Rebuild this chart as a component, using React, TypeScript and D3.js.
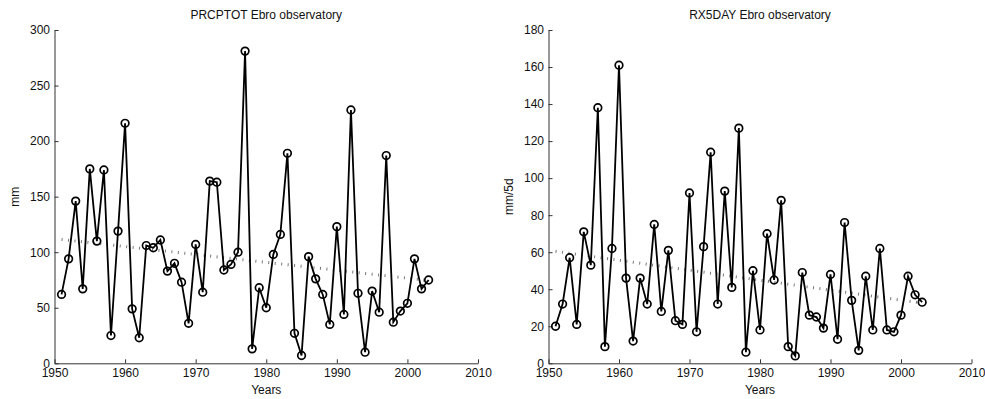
import * as d3 from "d3";
import { useEffect, useRef } from "react";

// years shared by both panels
const years = d3.range(1951, 2004);

const prcptot = [
  62, 94, 146, 67, 175, 110, 174, 25, 119, 216,
  49, 23, 106, 104, 111, 83, 90, 73, 36, 107,
  64, 164, 163, 84, 89, 100, 281, 13, 68, 50,
  98, 116, 189, 27, 7, 96, 76, 62, 35, 123,
  44, 228, 63, 10, 65, 46, 187, 37, 47, 54,
  94, 67, 75,
];

const rx5day = [
  20, 32, 57, 21, 71, 53, 138, 9, 62, 161,
  46, 12, 46, 32, 75, 28, 61, 23, 21, 92,
  17, 63, 114, 32, 93, 41, 127, 6, 50, 18,
  70, 45, 88, 9, 4, 49, 26, 25, 19, 48,
  13, 76, 34, 7, 47, 18, 62, 18, 17, 26,
  47, 37, 33,
];

// dotted trend line, start / end values (1951, 2003)
const prcptotTrend = [111.5, 74.5];
const rx5dayTrend = [60.5, 32.5];

const xTicks = [1950, 1960, 1970, 1980, 1990, 2000, 2010];
const prcptotTicks = [0, 50, 100, 150, 200, 250, 300];
const rx5dayTicks = [0, 20, 40, 60, 80, 100, 120, 140, 160, 180];

type panel = {
  title: string;
  ylabel: string;
  values: number[];
  trend: number[];
  yTicks: number[];
  left: number;
  right: number;
};

const panels: panel[] = [
  { title: "PRCPTOT Ebro observatory", ylabel: "mm", values: prcptot, trend: prcptotTrend, yTicks: prcptotTicks, left: 54.5, right: 478 },
  { title: "RX5DAY Ebro observatory", ylabel: "mm/5d", values: rx5day, trend: rx5dayTrend, yTicks: rx5dayTicks, left: 548.5, right: 971.5 },
];

export default function App() {
  const svgRef = useRef<SVGSVGElement | null>(null);
  useEffect(() => {
    if (!svgRef.current) return;
    draw(svgRef.current);
  }, []);
  return (
    <svg
      ref={svgRef}
      width={985}
      height={399}
      style={{ position: "absolute", left: 0, top: 0, background: "#fff" }}
    />
  );
}

function draw(svgElement: SVGSVGElement) {
  const svg = d3.select(svgElement);
  svg.selectAll("*").remove();

  const top = 30;
  const bottom = 363.3;
  const font = "'Liberation Sans', Arial, sans-serif";
  const axisColor = "#333";

  panels.forEach(p => {
    const x = d3.scaleLinear().domain([1950, 2010]).range([p.left, p.right]);
    const y = d3
      .scaleLinear()
      .domain([0, p.yTicks[p.yTicks.length - 1]])
      .range([bottom, top]);

    const g = svg.append("g");

    // --- title ---
    g.append("text")
      .attr("x", (p.left + p.right) / 2)
      .attr("y", 19)
      .attr("text-anchor", "middle")
      .style("font-family", font)
      .style("font-size", "12px")
      .style("fill", "#111")
      .text(p.title);

    // --- x axis, ticks inward ---
    const xAxis = g
      .append("g")
      .attr("transform", `translate(0, ${bottom})`)
      .call(
        d3.axisBottom(x)
          .tickValues(xTicks)
          .tickFormat(d3.format("d"))
          .tickSizeInner(-4)
          .tickSizeOuter(0)
          .tickPadding(5)
      );
    xAxis.select(".domain").attr("stroke", axisColor);
    xAxis.selectAll("line").attr("stroke", axisColor);
    xAxis.selectAll("text")
      .style("font-family", font)
      .style("font-size", "12px")
      .style("fill", "#111");

    // --- y axis ---
    const yAxis = g
      .append("g")
      .attr("transform", `translate(${p.left}, 0)`)
      .call(
        d3.axisLeft(y)
          .tickValues(p.yTicks)
          .tickSizeInner(-4)
          .tickSizeOuter(0)
          .tickPadding(4.5)
      );
    yAxis.select(".domain").attr("stroke", axisColor);
    yAxis.selectAll("line").attr("stroke", axisColor);
    yAxis.selectAll("text")
      .style("font-family", font)
      .style("font-size", "12px")
      .style("fill", "#111");

    // --- axis labels ---
    g.append("text")
      .attr("x", (p.left + p.right) / 2)
      .attr("y", 394)
      .attr("text-anchor", "middle")
      .style("font-family", font)
      .style("font-size", "12px")
      .style("fill", "#111")
      .text("Years");

    g.append("text")
      .attr("transform", `translate(${p.left - 36}, ${(top + bottom) / 2}) rotate(-90)`)
      .attr("text-anchor", "middle")
      .style("font-family", font)
      .style("font-size", "12px")
      .style("fill", "#111")
      .text(p.ylabel);

    // --- dotted trend (short vertical tick marks) ---
    g.append("line")
      .attr("x1", x(years[0]))
      .attr("x2", x(years[years.length - 1]))
      .attr("y1", y(p.trend[0]))
      .attr("y2", y(p.trend[1]))
      .attr("stroke", "#777")
      .attr("stroke-width", 3)
      .attr("stroke-dasharray", "1 5.5");

    // --- series line ---
    const line = d3
      .line<number>()
      .x((_, i) => x(years[i]))
      .y(d => y(d));

    g.append("path")
      .datum(p.values)
      .attr("d", line)
      .attr("fill", "none")
      .attr("stroke", "#000")
      .attr("stroke-width", 1.8)
      .attr("stroke-linejoin", "miter");

    // --- circle markers ---
    g.selectAll(".pt")
      .data(p.values)
      .join("circle")
      .attr("class", "pt")
      .attr("cx", (_, i) => x(years[i]))
      .attr("cy", d => y(d))
      .attr("r", 3.8)
      .attr("fill", "none")
      .attr("stroke", "#000")
      .attr("stroke-width", 1.7);
  });
}
